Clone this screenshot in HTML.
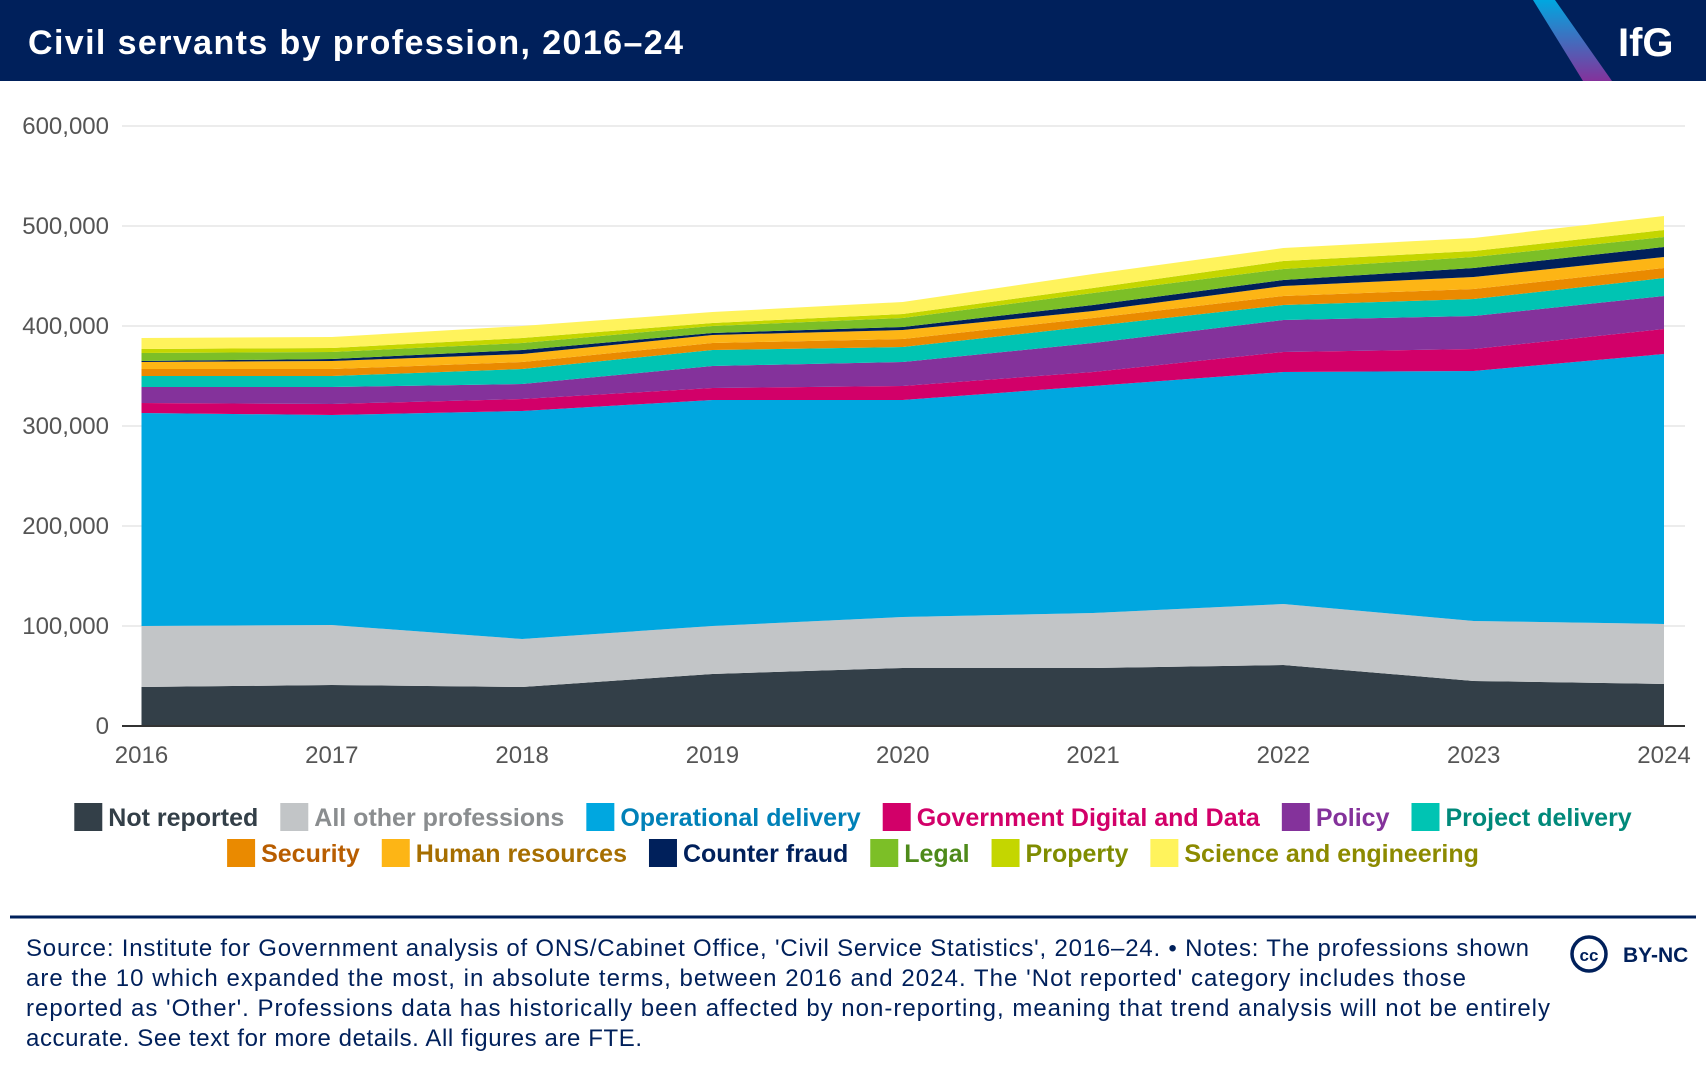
<!DOCTYPE html>
<html><head><meta charset="utf-8"><style>
body{margin:0;width:1706px;height:1068px;background:#fff;overflow:hidden;font-family:"Liberation Sans",sans-serif}
</style></head><body>
<svg width="1706" height="1068" viewBox="0 0 1706 1068" xmlns="http://www.w3.org/2000/svg">
<defs><linearGradient id="gs" x1="0" y1="0" x2="0" y2="1"><stop offset="0" stop-color="#00a7e0"/><stop offset="1" stop-color="#84329b"/></linearGradient></defs>
<rect x="0" y="0" width="1706" height="81" fill="#00205b"/>
<text x="28" y="54" fill="#fff" font-size="34" font-weight="bold" textLength="655">Civil servants by profession, 2016–24</text>
<polygon points="1533,0 1555,0 1612,81 1583,81" fill="url(#gs)"/>
<text x="1618" y="56" fill="#fff" font-size="40" font-weight="bold">IfG</text>
<g id="grid"></g>
<g id="areas"></g>
<g id="axes"></g>
<g id="legend"></g>
<line x1="10" y1="917" x2="1696" y2="917" stroke="#00205b" stroke-width="3"/>
<g font-size="24" fill="#00205b">
<text x="26" y="956" textLength="1503">Source: Institute for Government analysis of ONS/Cabinet Office, 'Civil Service Statistics', 2016–24. • Notes: The professions shown</text>
<text x="26" y="986" textLength="1440">are the 10 which expanded the most, in absolute terms, between 2016 and 2024. The 'Not reported' category includes those</text>
<text x="26" y="1016" textLength="1524">reported as 'Other'. Professions data has historically been affected by non-reporting, meaning that trend analysis will not be entirely</text>
<text x="26" y="1046" textLength="616">accurate. See text for more details. All figures are FTE.</text>
</g>
<circle cx="1589" cy="954" r="17" fill="none" stroke="#00205b" stroke-width="3.5"/>
<text x="1589" y="961" text-anchor="middle" font-size="17" font-weight="bold" fill="#00205b">cc</text>
<text x="1623" y="962" font-size="21" font-weight="bold" fill="#00205b">BY-NC</text>
</svg>
<script>
const years=[2016,2017,2018,2019,2020,2021,2022,2023,2024];
const yTicks=[0,100000,200000,300000,400000,500000,600000];
const seriesNames=["Not reported","All other professions","Operational delivery","Government Digital and Data","Policy","Project delivery","Security","Human resources","Counter fraud","Legal","Property","Science and engineering"];
const notReported=[39,41,39,52,58,58,61,45,42];
const allOther=[61,60,48,48,51,55,61,60,60];
const operational=[213,210,228,226,217,227,232,250,270];
const gdd=[10,11,12,12,14,14,20,22,25];
const policy=[16,17,15,22,24,29,32,33,33];
const project=[11,11,15,16,15,17,15,17,18];
const security=[7,7,7,7,8,8,9,10,10];
const hr=[7,8,8,8,9,7,10,12,11];
const counterFraud=[1,2,4,2,3,6,6,9,10];
const legal=[8,7,7,7,9,12,11,11,10];
const property=[4,4,5,3,4,5,8,6,7];
const science=[11,11,12,11,12,14,13,13,14];
const series=[notReported,allOther,operational,gdd,policy,project,security,hr,counterFraud,legal,property,science];
const fills=["#333f48","#c2c5c7","#00a7e0","#d20069","#84329b","#00c4b3","#ea8a00","#fdb515","#00205b","#7cbf27","#c4d600","#fff35c"];
const textCols=["#333f48","#8a8d8f","#0081b8","#d20069","#84329b","#00897a","#b85d00","#a66e00","#00205b","#4e8a1a","#7f8c00","#8c8a00"];
const NS="http://www.w3.org/2000/svg";
const x=y=>141.5+(y-2016)*(1664-141.5)/8;
const yv=v=>726-v/1000;
function mk(t,a,p){const e=document.createElementNS(NS,t);for(const k in a)e.setAttribute(k,a[k]);p.appendChild(e);return e;}
const grid=document.getElementById('grid'),areas=document.getElementById('areas'),axes=document.getElementById('axes'),leg=document.getElementById('legend');
yTicks.forEach(t=>{
 if(t>0){const l=mk('line',{x1:122,x2:1685,y1:yv(t),y2:yv(t),stroke:'#ececec','stroke-width':2},grid);
 
 }
 const tx=mk('text',{x:109,y:yv(t)+8,'text-anchor':'end','font-size':24,fill:'#555'},axes);tx.textContent=t.toLocaleString('en-GB');
 
 
});
let base=years.map(()=>0);
series.forEach((s,i)=>{
 const top=base.map((b,j)=>b+s[j]*1000);
 let pts=years.map((yr,j)=>x(yr)+','+yv(top[j]));
 for(let j=years.length-1;j>=0;j--)pts.push(x(years[j])+','+yv(base[j]));
 const p=mk('polygon',{points:pts.join(' '),fill:fills[i]},areas);
 
 
 base=top;
});
const ax=mk('line',{x1:122,x2:1685,y1:726,y2:726,stroke:'#333','stroke-width':2},axes);


years.forEach(yr=>{
 const tx=mk('text',{x:x(yr),y:763,'text-anchor':'middle','font-size':24,fill:'#555'},axes);tx.textContent=yr;
 
 
});
const rows=[[0,1,2,3,4,5],[6,7,8,9,10,11]];
const rowY=[817,853];
rows.forEach((r,ri)=>{
 const g=mk('g',{},leg);
 let cx=0;
 r.forEach(i=>{
  const sw=mk('rect',{x:cx,y:rowY[ri]-14,width:28,height:28,fill:fills[i]},g);
  
  
  const t=mk('text',{x:cx+34,y:rowY[ri]+9,'font-size':25,'font-weight':'bold',fill:textCols[i]},g);
  t.textContent=seriesNames[i];
  
  
  cx+=34+t.getComputedTextLength()+22;
 });
 const w=cx-22;
 g.setAttribute('transform','translate('+((1706-w)/2)+',0)');
});
</script>
</body></html>
